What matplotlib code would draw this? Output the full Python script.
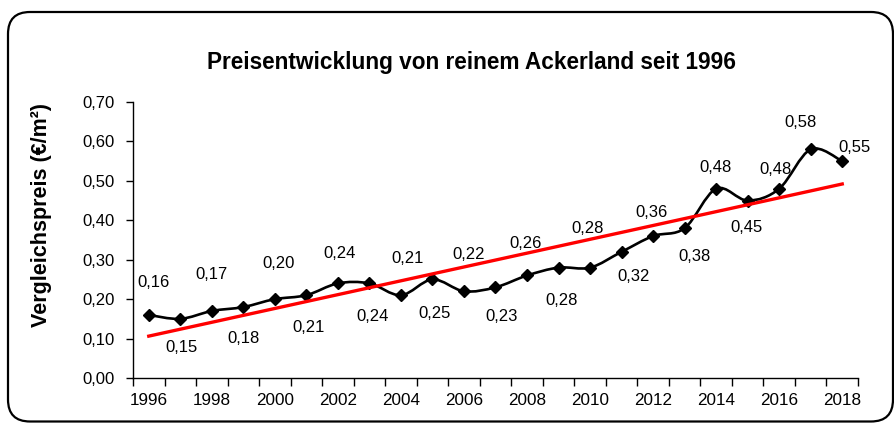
import matplotlib
matplotlib.use('Agg')
import matplotlib.pyplot as plt
import numpy as np
from matplotlib.path import Path
from matplotlib.patches import PathPatch, FancyBboxPatch
from matplotlib.ticker import FixedLocator, FuncFormatter

plt.rcParams['font.family'] = ['Liberation Sans', 'DejaVu Sans']

years = list(range(1996, 2019))
preis = [0.16, 0.15, 0.17, 0.18, 0.20, 0.21, 0.24, 0.24, 0.21, 0.25, 0.22, 0.23,
         0.26, 0.28, 0.28, 0.32, 0.36, 0.38, 0.48, 0.45, 0.48, 0.58, 0.55]

# Verschiebung der Beschriftungen in Pixeln (x, y nach oben)
label_dx = [5, 1, 0, 0, 4, 2, 2, 3, 7, 2, 5, 6, -1, 3, -3, 12, -2, 10, -1, -1, -4, -10, 12]
label_dy = [32, -29, 36, -31, 36, -32, 30, -33, 37, -34, 37, -29, 32, -33, 39, -25, 24, -28,
            21, -27, 19, 27, 14]

x = np.arange(len(years))
y = np.array(preis)

fig = plt.figure(figsize=(8.95, 4.23), dpi=100)
ax = fig.add_axes([133 / 895, 45 / 423, 725 / 895, 276 / 423])

# geglaettete Linie als Bezier-Kurve (Catmull-Rom)
pts = np.column_stack([x, y])
verts = [pts[0]]
codes = [Path.MOVETO]
n = len(pts)
for i in range(n - 1):
    p0 = pts[max(i - 1, 0)]
    p1 = pts[i]
    p2 = pts[i + 1]
    p3 = pts[min(i + 2, n - 1)]
    c1 = p1 + (p2 - p0) / 6
    c2 = p2 - (p3 - p1) / 6
    verts += [c1, c2, p2]
    codes += [Path.CURVE4] * 3
ax.add_patch(PathPatch(Path(verts, codes), fill=False, edgecolor='black', lw=1.9, zorder=3))
ax.plot(x, y, linestyle='none', marker='D', markersize=6.5, color='black', zorder=4)

# lineare Trendlinie
k, d = np.polyfit(x, y, 1)
ax.plot([x[0], x[-1]], [k * x[0] + d, k * x[-1] + d], color='#ff0000', lw=2.4, zorder=5)

for i in range(n):
    ax.annotate(f'{preis[i]:.2f}'.replace('.', ','), (x[i], y[i]),
                xytext=(label_dx[i], label_dy[i]), textcoords='offset pixels',
                ha='center', va='center', fontsize=12, color='black', zorder=6)

ax.set_xlim(-0.5, n - 0.5)
ax.set_ylim(0, 0.70)
ax.set_yticks(np.arange(0, 0.71, 0.1))
ax.yaxis.set_major_formatter(FuncFormatter(lambda v, p: f'{v:.2f}'.replace('.', ',')))
ax.xaxis.set_major_locator(FixedLocator(np.arange(-0.5, n, 1)))
ax.xaxis.set_major_formatter(FuncFormatter(lambda v, p: ''))
ax.xaxis.set_minor_locator(FixedLocator(x[::2]))
ax.xaxis.set_minor_formatter(FuncFormatter(lambda v, p: str(years[int(round(v))])))
ax.tick_params(axis='x', which='major', length=6, width=1, direction='out')
ax.tick_params(axis='x', which='minor', length=0, pad=11, labelsize=12.3)
ax.tick_params(axis='y', length=5, width=1, direction='out', labelsize=12, pad=8)
for s in ['top', 'right']:
    ax.spines[s].set_visible(False)
for s in ['left', 'bottom']:
    ax.spines[s].set_linewidth(1)
ax.set_facecolor('none')

fig.text(472 / 895, 1 - 63 / 423, 'Preisentwicklung von reinem Ackerland seit 1996',
         ha='center', va='center', fontsize=16.3, fontweight='bold')
fig.text(42 / 895, 1 - 215 / 423, 'Vergleichspreis (€/m²)', rotation=90,
         ha='center', va='center', fontsize=15.5, fontweight='bold')

# abgerundeter Rahmen
frame = FancyBboxPatch((0.08, 0.015), 8.85, 4.095, boxstyle='round,pad=0,rounding_size=0.22',
                       transform=fig.dpi_scale_trans, fill=False, edgecolor='black', lw=1.6)
fig.patches.append(frame)

fig.savefig('out.png', dpi=100)
